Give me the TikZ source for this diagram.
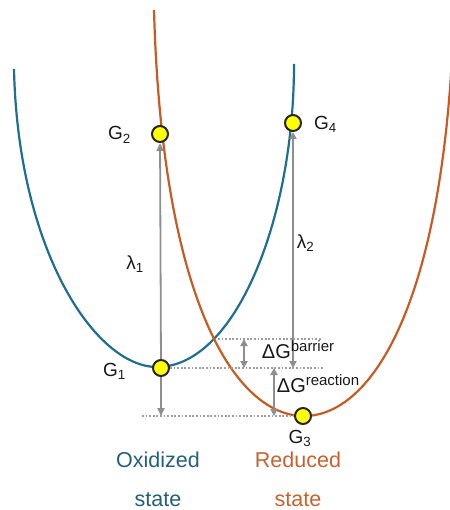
\documentclass[tikz,border=0pt]{standalone}
\usepackage{fontspec}
\setmainfont{Liberation Sans}
\usepackage{xcolor}
\usepackage{tikz}
\usetikzlibrary{positioning,arrows.meta,calc}
\definecolor{oxBlue}{HTML}{1D6E8F}
\definecolor{oxText}{HTML}{225F7D}
\definecolor{redOrange}{HTML}{C75B23}
\definecolor{redText}{HTML}{C8612E}
\definecolor{levelGray}{HTML}{8E8E8E}
\definecolor{ballYellow}{HTML}{FFFF00}
\newcommand{\gsup}[1]{\raisebox{0.35em}{\fontsize{15}{15}\selectfont #1}}

\begin{document}
\begin{tikzpicture}[
      x=1pt, y=-1pt,
      pes/.style={line width=2.2pt},
      ball/.style={circle, draw=black!85, line width=2pt, fill=ballYellow,
                   minimum size=16pt, inner sep=0pt},
      glabel/.style={inner sep=0pt, text=black!90, font=\fontsize{19}{22}\selectfont},
      dglabel/.style={inner sep=0pt, text=black!90, font=\fontsize{20}{22}\selectfont},
      arrow/.style={-{Triangle[length=8pt,width=7pt]}, line width=1.8pt, levelGray},
      darrow/.style={{Triangle[length=7pt,width=7pt]}-{Triangle[length=7pt,width=7pt]},
                     line width=1.8pt, levelGray},
      dotline/.style={line width=1.6pt, levelGray!85, dash pattern=on 1.8pt off 1.8pt},
      statetext/.style={inner sep=0pt, font=\fontsize{21.5}{24}\selectfont}
    ]
    \useasboundingbox (0,0) rectangle (449,510);

    \draw[pes, oxBlue] (14,69) .. controls (18,250) and (95,367) .. (157,367)
      .. controls (235,367) and (294,220) .. (294,64);
    \draw[pes, redOrange] (154,10) .. controls (162,300) and (235,416) .. (304,416)
      .. controls (373,416) and (446,300) .. (454,10);

    \node[ball] (g1) at (161,368) {};
    \node[ball] (g2) at (160,134) {};
    \node[ball] (g3) at (303,416) {};
    \node[ball] (g4) at (293,123) {};
    \node[glabel, left=26pt of g1, yshift=-3pt] (g1lab) {G\textsubscript{1}};
    \node[glabel, left=20pt of g2, yshift=-1pt] (g2lab) {G\textsubscript{2}};
    \node[glabel, below=5pt of g3, xshift=-3pt] (g3lab) {G\textsubscript{3}};
    \node[glabel, right=12pt of g4, yshift=-1pt] (g4lab) {G\textsubscript{4}};

    \coordinate (l1b) at (161,416);
    \coordinate (l2b) at (293,368);
    \coordinate (cross) at (218,339);
    \coordinate (bartop) at (322,339);
    \coordinate (midend) at (323,368);
    \coordinate (botstart) at (142,416);
    \coordinate (b1) at (244,339);
    \coordinate (b2) at (244,368);
    \coordinate (r1) at (274,368);
    \coordinate (r2) at (274,416);

    \draw[dotline] (cross) -- (bartop);
    \draw[dotline] (g1) -- (midend);
    \draw[dotline] (botstart) -- (g3);

    \draw[arrow] (g1) -- node[glabel, pos=0.44, left=16pt] {λ\textsubscript{1}} (g2);
    \draw[arrow] (g1) -- (l1b);
    \draw[darrow] (l2b) -- node[glabel, pos=0.53, right=3pt] {λ\textsubscript{2}} (g4);
    \draw[darrow] (b1) -- node[dglabel, pos=0.38, right=17pt] {ΔG\gsup{barrier}} (b2);
    \draw[darrow] (r1) -- node[dglabel, pos=0.32, right=2pt] {ΔG\gsup{reaction}} (r2);

    \node[statetext, text=oxText, anchor=base] (ox) at (158,467) {Oxidized};
    \node[statetext, text=oxText, below=25pt of ox] (oxstate) {state};
    \node[statetext, text=redText, anchor=base] (red) at (298,467) {Reduced};
    \node[statetext, text=redText, below=25pt of red] (redstate) {state};
  \end{tikzpicture}
\end{document}
